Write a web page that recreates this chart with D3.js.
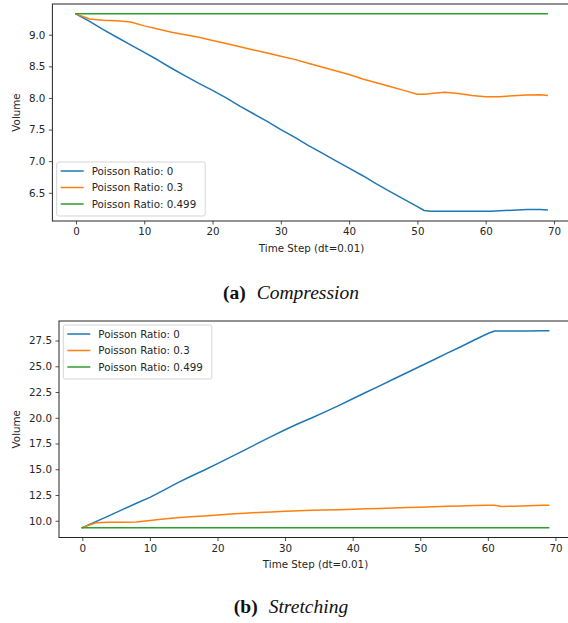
<!DOCTYPE html>
<html><head><meta charset="utf-8">
<script src="https://cdn.jsdelivr.net/npm/d3@7"></script>
<style>body{margin:0;background:#fff} svg{display:block}</style>
</head><body><svg id="c" width="568" height="623"></svg>
<script>
// ---------- data ----------
const xTicks = [0, 10, 20, 30, 40, 50, 60, 70];
const compYTicks = [6.5, 7.0, 7.5, 8.0, 8.5, 9.0];
const stretchYTicks = [10.0, 12.5, 15.0, 17.5, 20.0, 22.5, 25.0, 27.5];
const seriesNames = ["Poisson Ratio: 0", "Poisson Ratio: 0.3", "Poisson Ratio: 0.499"];
const seriesColors = ["#1f77b4", "#ff7f0e", "#2ca02c"];

const steps = [0, 2, 4, 6, 8, 10, 12, 14, 16, 18, 20, 22, 24, 26, 28, 30, 32, 34, 36, 38,
               40, 42, 44, 46, 48, 50, 51, 52, 54, 56, 58, 60, 61, 62, 64, 66, 68, 69];
const flatSteps = [0, 69];

const compRatio0 = [9.33, 9.21, 9.08, 8.96, 8.84, 8.72, 8.60, 8.47, 8.35, 8.23, 8.12, 8.00, 7.87, 7.75, 7.63, 7.50, 7.38, 7.25, 7.13, 7.01,
                    6.89, 6.77, 6.64, 6.52, 6.40, 6.28, 6.22, 6.21, 6.21, 6.21, 6.21, 6.21, 6.21, 6.215, 6.225, 6.235, 6.235, 6.23];
const compRatio03 = [9.33, 9.25, 9.23, 9.22, 9.20, 9.14, 9.09, 9.04, 9.00, 8.96, 8.91, 8.86, 8.81, 8.76, 8.71, 8.66, 8.61, 8.55, 8.49, 8.43,
                     8.37, 8.30, 8.24, 8.18, 8.12, 8.06, 8.06, 8.07, 8.09, 8.07, 8.04, 8.02, 8.02, 8.02, 8.035, 8.045, 8.05, 8.04];
const compRatio0499 = [9.33, 9.33];

const stretchRatio0 = [9.33, 9.92, 10.5, 11.1, 11.7, 12.27, 12.95, 13.65, 14.3, 14.9, 15.55, 16.2, 16.86, 17.53, 18.2, 18.84, 19.44, 20.0, 20.6, 21.2,
                       21.85, 22.48, 23.1, 23.74, 24.37, 25.0, 25.32, 25.63, 26.27, 26.9, 27.55, 28.18, 28.42, 28.42, 28.43, 28.43, 28.44, 28.44];
const stretchRatio03 = [9.33, 9.8, 9.86, 9.86, 9.88, 10.02, 10.18, 10.3, 10.38, 10.47, 10.56, 10.66, 10.74, 10.8, 10.86, 10.92, 10.97, 11.01, 11.05, 11.08,
                        11.12, 11.16, 11.2, 11.24, 11.28, 11.32, 11.34, 11.36, 11.4, 11.44, 11.47, 11.5, 11.5, 11.38, 11.42, 11.46, 11.5, 11.5];
const stretchRatio0499 = [9.33, 9.33];

// ---------- drawing ----------
const svg = d3.select("#c");
const FONT = "'DejaVu Sans', sans-serif";
const FS = 10.3;
const INK = "#262626";

function drawPanel(cfg) {
  const series = [
    {x: steps, y: cfg.s0},
    {x: steps, y: cfg.s1},
    {x: flatSteps, y: cfg.s2}
  ];
  const allY = series.flatMap(s => s.y);
  const allX = series.flatMap(s => s.x);
  const [y0, y1] = d3.extent(allY);
  const [x0, x1] = d3.extent(allX);
  const my = (y1 - y0) * 0.05, mx = (x1 - x0) * 0.05;
  const x = d3.scaleLinear().domain([x0 - mx, x1 + mx]).range([cfg.left, cfg.right]);
  const y = d3.scaleLinear().domain([y0 - my, y1 + my]).range([cfg.bottom, cfg.top]);
  const g = svg.append("g");

  // lines
  const line = d3.line().x(d => x(d[0])).y(d => y(d[1]));
  series.forEach((s, i) => {
    g.append("path")
      .datum(s.x.map((t, k) => [t, s.y[k]]))
      .attr("d", line)
      .attr("fill", "none")
      .attr("stroke", seriesColors[i])
      .attr("stroke-width", 1.5)
      .attr("stroke-linejoin", "round")
      .attr("stroke-linecap", "square");
  });

  // frame
  g.append("rect")
    .attr("x", cfg.left).attr("y", cfg.top)
    .attr("width", cfg.right - cfg.left).attr("height", cfg.bottom - cfg.top)
    .attr("fill", "none").attr("stroke", INK).attr("stroke-width", 1);

  // axes
  const xa = g.append("g").attr("transform", `translate(0,${cfg.bottom})`)
    .call(d3.axisBottom(x).tickValues(xTicks).tickFormat(d3.format("d")).tickSize(3.5).tickPadding(3.5));
  const ya = g.append("g").attr("transform", `translate(${cfg.left},0)`)
    .call(d3.axisLeft(y).tickValues(cfg.yTicks).tickFormat(d3.format(".1f")).tickSize(3.5).tickPadding(3.5));
  [xa, ya].forEach(a => {
    a.select(".domain").remove();
    a.selectAll("line").attr("stroke", INK).attr("stroke-width", 0.8);
    a.selectAll("text").attr("fill", INK).attr("font-family", FONT).attr("font-size", FS);
  });

  // axis labels
  g.append("text")
    .attr("x", (cfg.left + cfg.right) / 2).attr("y", cfg.bottom + 30.7)
    .attr("text-anchor", "middle").attr("font-family", FONT).attr("font-size", FS).attr("fill", INK)
    .text("Time Step (dt=0.01)");
  g.append("text")
    .attr("transform", `translate(19.5,${(cfg.top + cfg.bottom) / 2}) rotate(-90)`)
    .attr("text-anchor", "middle").attr("font-family", FONT).attr("font-size", FS).attr("fill", INK)
    .text("Volume");

  // legend
  const lw = 148.5, lh = 54;
  const lx = cfg.left + 4.3;
  const ly = cfg.legendLoc === "lower" ? cfg.bottom - 5 - lh : cfg.top + 4;
  const lg = g.append("g").attr("transform", `translate(${lx},${ly})`);
  lg.append("rect").attr("width", lw).attr("height", lh).attr("rx", 2)
    .attr("fill", "#fff").attr("fill-opacity", 0.8).attr("stroke", "#d0d0d0").attr("stroke-width", 0.9);
  const rows = [9, 25.5, 42];
  seriesNames.forEach((name, i) => {
    lg.append("line").attr("x1", 4).attr("x2", 27).attr("y1", rows[i]).attr("y2", rows[i])
      .attr("stroke", seriesColors[i]).attr("stroke-width", 1.5);
    lg.append("text").attr("x", 35).attr("y", rows[i] + 3.7)
      .attr("font-family", FONT).attr("font-size", FS).attr("fill", INK).text(name);
  });

  // caption
  const cap = svg.append("text").attr("x", cfg.capX).attr("y", cfg.capY)
    .attr("text-anchor", "middle").attr("font-family", "'Liberation Serif', serif")
    .attr("font-size", 19.5).attr("fill", "#111");
  cap.append("tspan").attr("font-weight", "bold").text(cfg.capTag);
  cap.append("tspan").attr("font-style", "italic").attr("dx", 11).text(cfg.capText);
}

drawPanel({
  s0: compRatio0, s1: compRatio03, s2: compRatio0499, yTicks: compYTicks,
  left: 52.4, right: 570.7, top: 4, bottom: 221, legendLoc: "lower",
  capX: 291, capY: 298.5, capTag: "(a)", capText: "Compression"
});
drawPanel({
  s0: stretchRatio0, s1: stretchRatio03, s2: stretchRatio0499, yTicks: stretchYTicks,
  left: 59, right: 572, top: 321, bottom: 537.5, legendLoc: "upper",
  capX: 291, capY: 613, capTag: "(b)", capText: "Stretching"
});
</script>
</body></html>
